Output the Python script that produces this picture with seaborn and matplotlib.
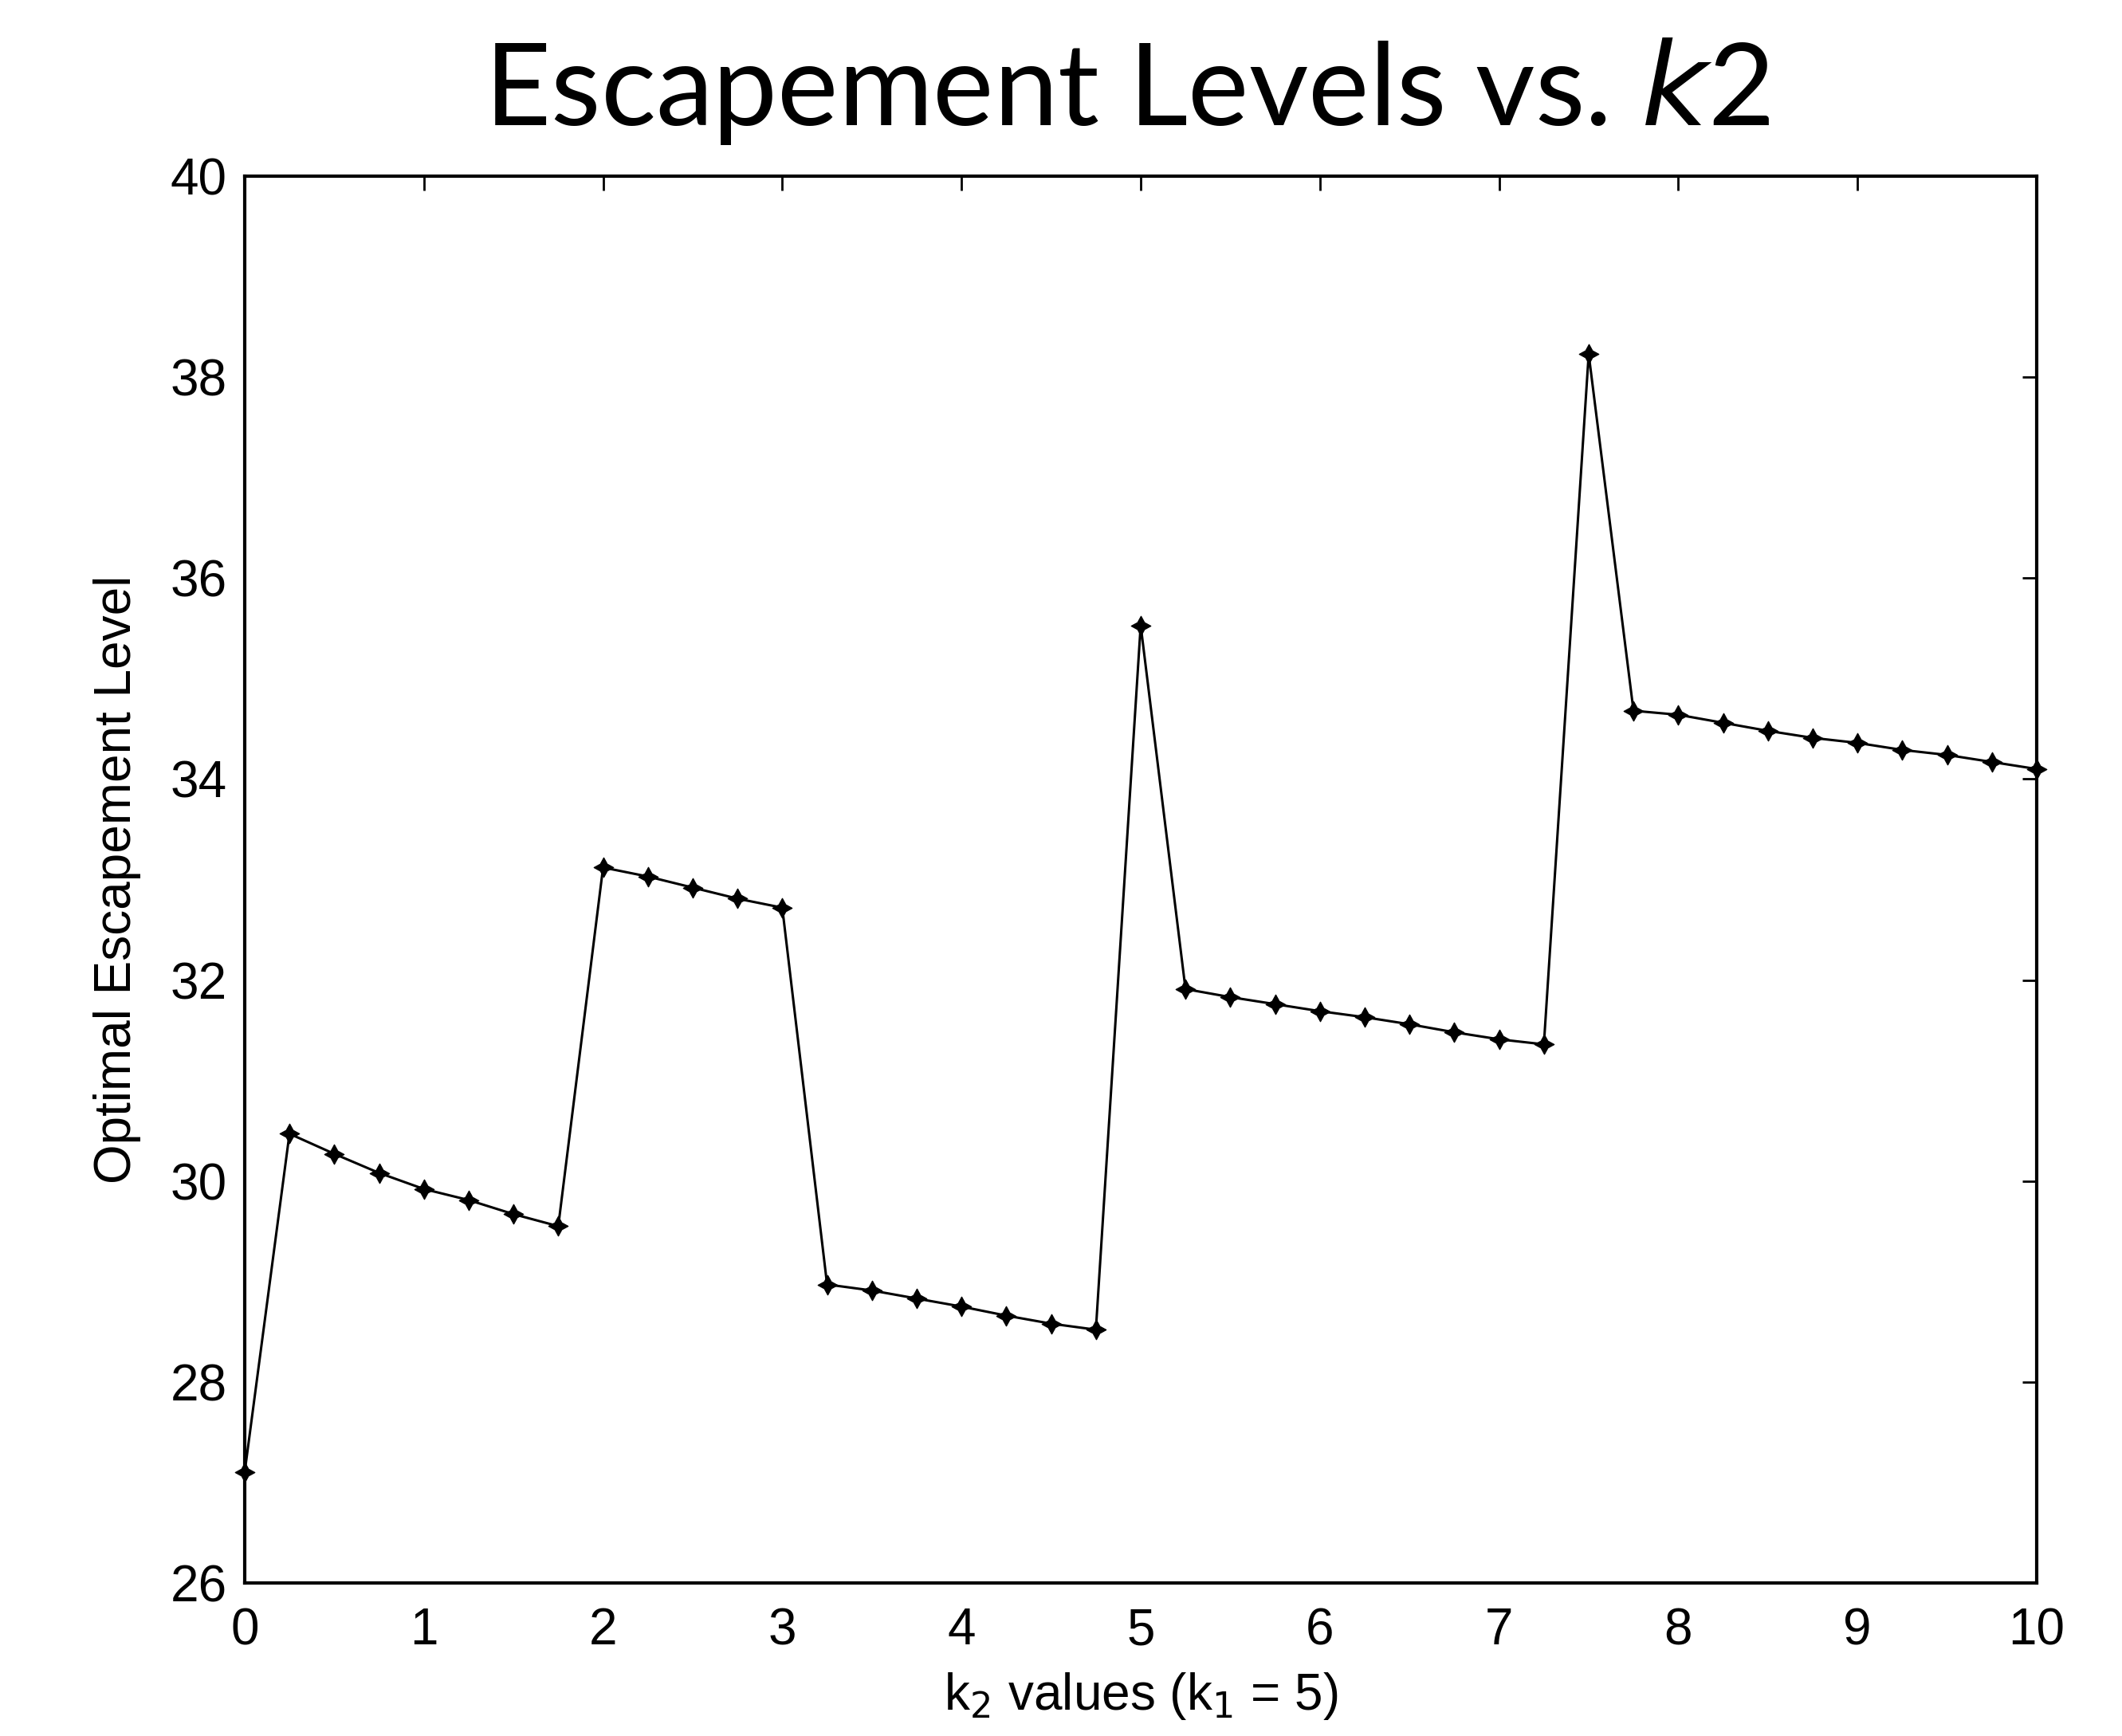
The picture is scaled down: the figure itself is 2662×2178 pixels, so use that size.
import numpy as np
import pandas as pd
import matplotlib
matplotlib.use('Agg')
import matplotlib.pyplot as plt
import seaborn as sns

# k2 values, step 0.25 from 0 to 10
k2_values = [0.0, 0.25, 0.5, 0.75, 1.0, 1.25, 1.5, 1.75, 2.0, 2.25, 2.5, 2.75, 3.0,
             3.25, 3.5, 3.75, 4.0, 4.25, 4.5, 4.75, 5.0, 5.25, 5.5, 5.75, 6.0, 6.25,
             6.5, 6.75, 7.0, 7.25, 7.5, 7.75, 8.0, 8.25, 8.5, 8.75, 9.0, 9.25, 9.5,
             9.75, 10.0]
# optimal escapement level
escapement = [27.10, 30.47, 30.27, 30.08, 29.92, 29.81, 29.67, 29.55, 33.12, 33.03,
              32.92, 32.81, 32.72, 28.97, 28.91, 28.83, 28.75, 28.66, 28.58, 28.52,
              35.53, 31.91, 31.83, 31.76, 31.69, 31.63, 31.56, 31.48, 31.41, 31.36,
              38.23, 34.68, 34.64, 34.56, 34.48, 34.41, 34.36, 34.29, 34.24, 34.17,
              34.10]
x_ticks = [0, 1, 2, 3, 4, 5, 6, 7, 8, 9, 10]
y_ticks = [26, 28, 30, 32, 34, 36, 38, 40]

df = pd.DataFrame({'k2': k2_values, 'level': escapement})

sns.set_style('white')
plt.rcParams['font.family'] = ['Liberation Sans Narrow', 'Liberation Sans', 'DejaVu Sans']
plt.rcParams['text.color'] = 'black'
plt.rcParams['axes.labelcolor'] = 'black'

fig = plt.figure(figsize=(26.62, 21.78), dpi=100)
ax = fig.add_axes([0.1153, 0.0882, 0.8445, 0.8103])

sns.lineplot(data=df, x='k2', y='level', ax=ax, color='black', linewidth=2.2,
             marker=(4, 1, 0), markersize=18, markeredgecolor='black',
             markerfacecolor='black', clip_on=False)

ax.set_xlim(0, 10)
ax.set_ylim(26, 40)
ax.set_xticks(x_ticks)
ax.set_yticks(y_ticks)
ax.tick_params(direction='in', length=13, width=2, labelsize=46, colors='black',
               top=True, right=True)
ax.tick_params(axis='x', pad=22)
ax.tick_params(axis='y', pad=16)
for s in ax.spines.values():
    s.set_visible(True)
    s.set_color('black')
    s.set_linewidth(3)

ax.set_xlabel(r'k$_2$ values (k$_1$ = 5)', fontsize=46, labelpad=14)
ax.set_ylabel('Optimal Escapement Level', fontsize=46, labelpad=26)

fig.text(0.531, 0.928, r'Escapement Levels vs. $\mathit{k}$2', ha='center', va='baseline',
         fontsize=104, color='black', family=['Lato', 'DejaVu Sans'])

fig.savefig('out.png', dpi=100, facecolor='white')
